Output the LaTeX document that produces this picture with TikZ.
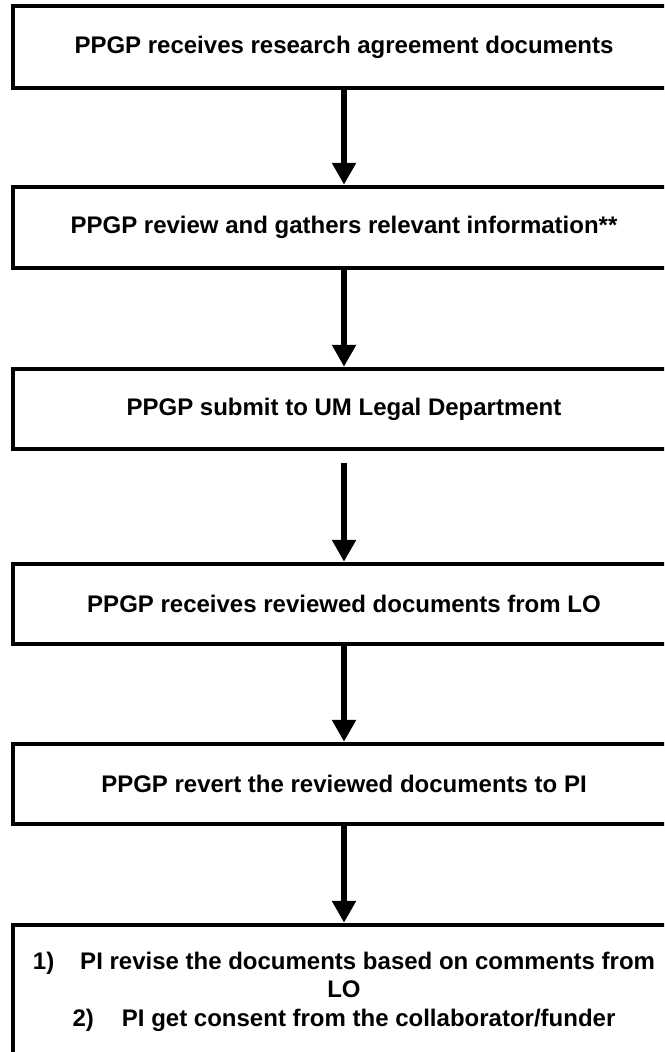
\documentclass[tikz,border=0pt]{standalone}
\usepackage{fontspec}
\setmainfont{Liberation Sans}
\usetikzlibrary{arrows.meta}
\begin{document}
\begin{tikzpicture}[x=1pt,y=-1pt,
  stepbox/.style={draw=black, line width=4.5pt, rectangle, minimum width=662pt,
    inner sep=0pt, font=\fontsize{24}{28.5}\selectfont\bfseries, align=center},
  flow/.style={line width=6.5pt, -{Triangle[width=23pt,length=22pt]}}]
\useasboundingbox (0,0) rectangle (664,1052);
\clip (0,0) rectangle (664,1052);
\node[stepbox, minimum height=82pt] (b1) at (344,47) {PPGP receives research agreement documents};
\node[stepbox, minimum height=81pt] (b2) at (344,227.5) {PPGP review and gathers relevant information**};
\node[stepbox, minimum height=80pt] (b3) at (344,409) {PPGP submit to UM Legal Department};
\node[stepbox, minimum height=80pt] (b4) at (344,604) {PPGP receives reviewed documents from LO};
\node[stepbox, minimum height=80pt] (b5) at (344,784) {PPGP revert the reviewed documents to PI};
\node[stepbox, minimum height=133pt] (b6) at (344,991.5) {1)\hspace{26pt}PI revise the documents based on comments from\\LO\\2)\hspace{28pt}PI get consent from the collaborator/funder};
\coordinate (a3) at (344,463);
\draw[flow] (b1.south) -- (b2.north);
\draw[flow] (b2.south) -- (b3.north);
\draw[flow] (a3) -- (b4.north);
\draw[flow] (b4.south) -- (b5.north);
\draw[flow] (b5.south) -- (b6.north);
\end{tikzpicture}
\end{document}
